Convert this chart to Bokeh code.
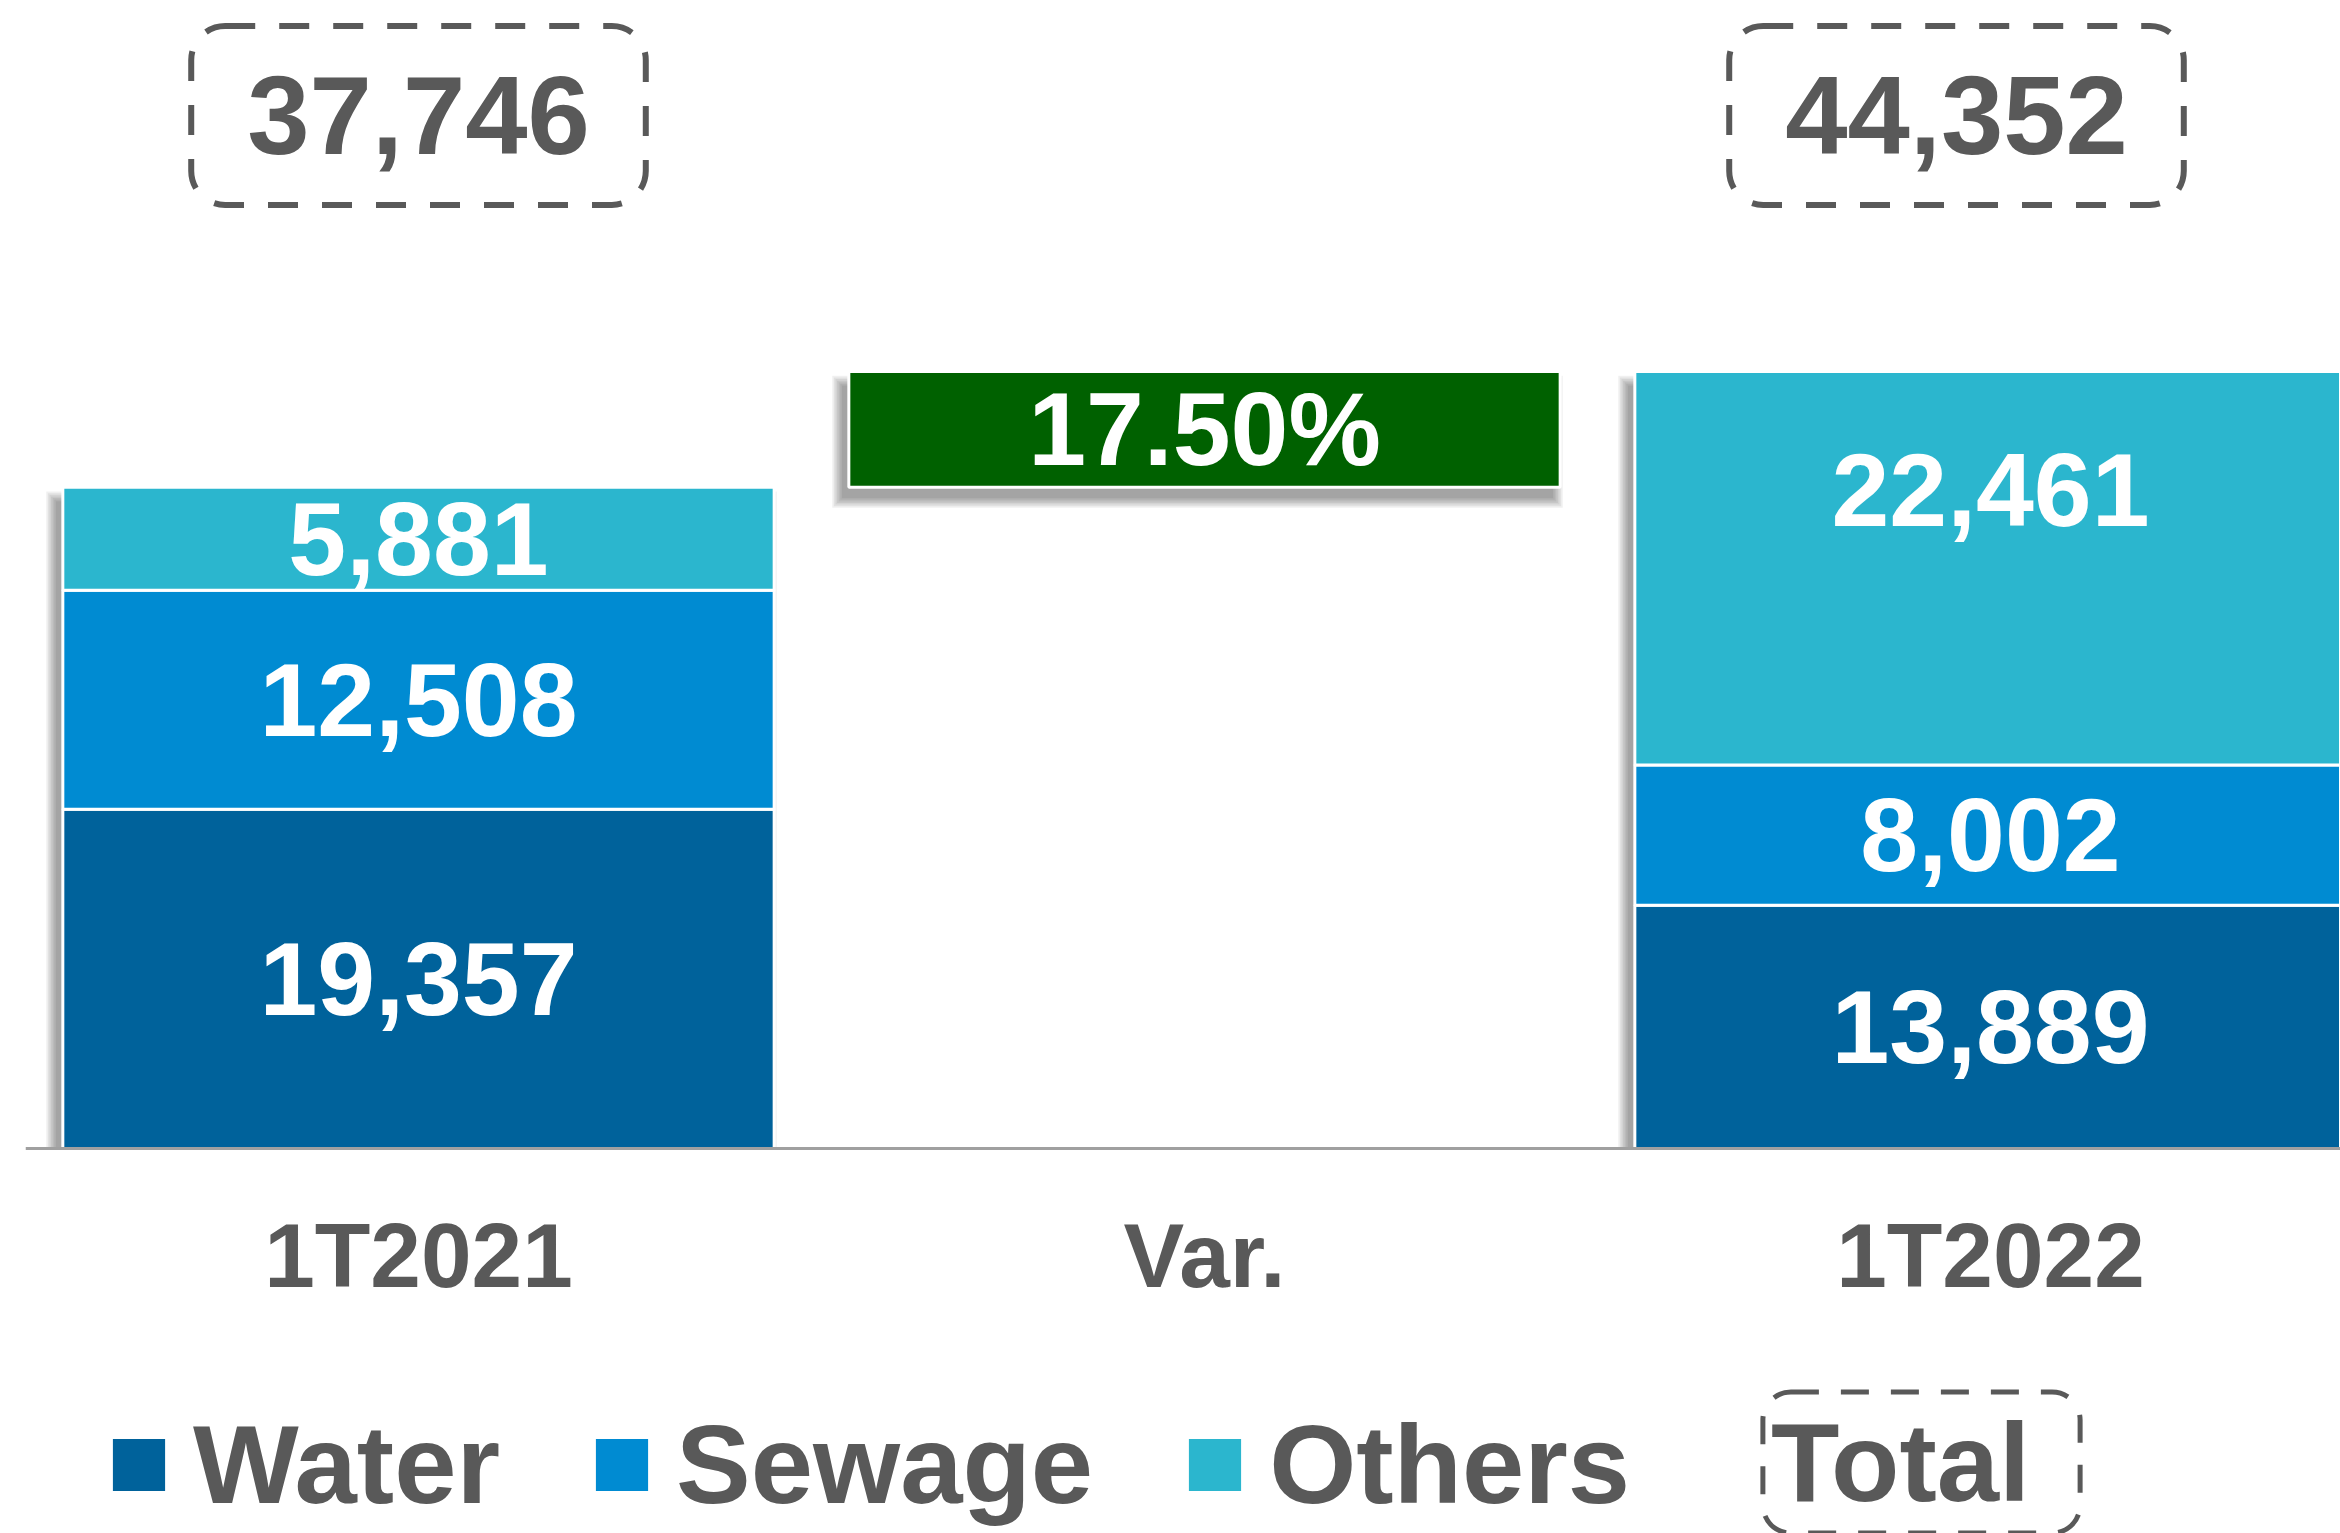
from bokeh.plotting import figure
from bokeh.models import ColumnDataSource, Range1d, FixedTicker, Legend, LegendItem, Label
from bokeh.core.properties import value
from bokeh.embed import file_html
from bokeh.resources import INLINE

# ---------------- data ----------------
periods = ["1T2021", "Var.", "1T2022"]
stack_periods = ["1T2021", "1T2022"]
series = ["Water", "Sewage", "Others"]
water = [19357, 13889]
sewage = [12508, 8002]
others = [5881, 22461]
totals = [37746, 44352]
var_labels = ["17.50%"]

# ---------------- style ----------------
FONT = "Liberation Sans"
GRAY = "#595959"
COLORS = ["#00629B", "#008BD2", "#2BB6CE"]
GREEN = "#006100"
W, H = 2340, 1533
BORDER_L = 25
FRAME_W = W - BORDER_L
BASE_PX = 1148            # baseline position from the top, px
PX_PER_CAT = 786.0
PX_PER_UNIT = 0.01752
X_END = FRAME_W / PX_PER_CAT
DX = 1 / PX_PER_CAT       # data units per px (x)
DY = 1 / PX_PER_UNIT      # data units per px (y)
Y_END = BASE_PX * DY
Y_START = -(H - BASE_PX) * DY
BAR_W = 0.905

xpos = {name: i + 0.5 for i, name in enumerate(periods)}
xs = [xpos[n] for n in stack_periods]
xv = xpos["Var."]

p = figure(width=W, height=H, x_range=Range1d(0, X_END), y_range=Range1d(Y_START, Y_END),
           output_backend="svg", toolbar_location=None, y_axis_location=None,
           min_border_left=BORDER_L, min_border_right=0, min_border_top=0,
           min_border_bottom=0)
p.outline_line_color = None
p.grid.visible = False
p.background_fill_color = "white"

# ---------------- shadows ----------------
rects = [(x - BAR_W / 2, x + BAR_W / 2, 0, t, True) for x, t in zip(xs, totals)]
rects.append((xv - BAR_W / 2, xv + BAR_W / 2, totals[0], totals[1], False))
sl, sr, sb, st = [], [], [], []
for (l, r, b, t, grounded) in rects:
    for k in range(7):
        s = 1.6 * k
        sl.append(l - (7 + s) * DX)
        sr.append(r - (7 - s) * DX)
        sb.append(0 if grounded else b - (11 + s) * DY)
        st.append(t - (14 - s) * DY)
p.quad(left=sl, right=sr, bottom=sb, top=st, fill_color="black", fill_alpha=0.06, line_color=None)

# ---------------- stacked bars ----------------
src = ColumnDataSource(dict(x=xs, Water=water, Sewage=sewage, Others=others))
rends = p.vbar_stack(series, x="x", width=BAR_W, color=COLORS, source=src,
                     line_color="white", line_width=3)

# variation floating bar
p.vbar(x=[xv], bottom=[totals[0]], top=[totals[1]], width=BAR_W,
       fill_color=GREEN, line_color="white", line_width=3)

# ---------------- segment labels ----------------
lx, ly, lt, lo = [], [], [], []
nudge = {(1, 2): 78}  # pixel nudge for 1T2022 Others label
vals = [water, sewage, others]
for i, x in enumerate(xs):
    base = 0
    for j in range(3):
        v = vals[j][i]
        lx.append(x)
        ly.append(base + v / 2)
        lt.append(f"{v:,}")
        lo.append(-nudge.get((i, j), 0))
        base += v
p.text(x=lx, y=ly, text=lt, y_offset=lo, text_align="center", text_baseline="middle",
       text_color="white", text_font=value(FONT), text_font_style="bold",
       text_font_size="104px")

p.text(x=[xv], y=[(totals[0] + totals[1]) / 2], text=var_labels, text_align="center",
       text_baseline="middle", text_color="white", text_font=value(FONT),
       text_font_style="bold", text_font_size="104px")

# ---------------- total labels ----------------
y_tot = Y_END - 115 * DY
p.text(x=xs, y=[y_tot] * len(xs), x_offset=[0, -34], text=[f"{t:,}" for t in totals],
       text_align="center", text_baseline="middle", text_color=GRAY,
       text_font=value(FONT), text_font_style="bold", text_font_size="112px",
       border_line_color=GRAY, border_line_dash="30 24", border_line_width=6,
       border_radius=34, padding=(56, 51))

# ---------------- axis ----------------
ax = p.xaxis[0]
ax.fixed_location = 0
ax.ticker = FixedTicker(ticks=[xpos[n] for n in periods])
ax.major_label_overrides = {xpos[n]: n for n in periods}
ax.major_tick_line_color = None
ax.minor_tick_line_color = None
ax.major_tick_out = 0
ax.major_tick_in = 0
ax.axis_line_color = "#A0A0A0"
ax.axis_line_width = 3
ax.major_label_standoff = 56
ax.major_label_text_font = FONT
ax.major_label_text_font_style = "bold"
ax.major_label_text_font_size = "91px"
ax.major_label_text_color = GRAY

# ---------------- legend ----------------
legend = Legend(items=[LegendItem(label=s, renderers=[r]) for s, r in zip(series, rends)],
                orientation="horizontal", location=(79, 4),
                glyph_width=69, glyph_height=69, label_standoff=20, spacing=87,
                label_text_font=FONT, label_text_font_style="bold",
                label_text_font_size="112px", label_text_color=GRAY,
                border_line_color=None, background_fill_alpha=0, padding=0, margin=0)
p.add_layout(legend, "center")

total_lbl = Label(x=1896, y=71, x_units="screen", y_units="screen", text="Total",
                  text_align="center", text_baseline="middle", text_color=GRAY,
                  text_font=FONT, text_font_style="bold", text_font_size="112px",
                  border_line_color=GRAY, border_line_dash="28 22", border_line_width=5,
                  border_radius=28, padding=dict(left=8, right=50, top=8, bottom=8))
p.add_layout(total_lbl)

open("out.html", "w").write(file_html(p, INLINE))
